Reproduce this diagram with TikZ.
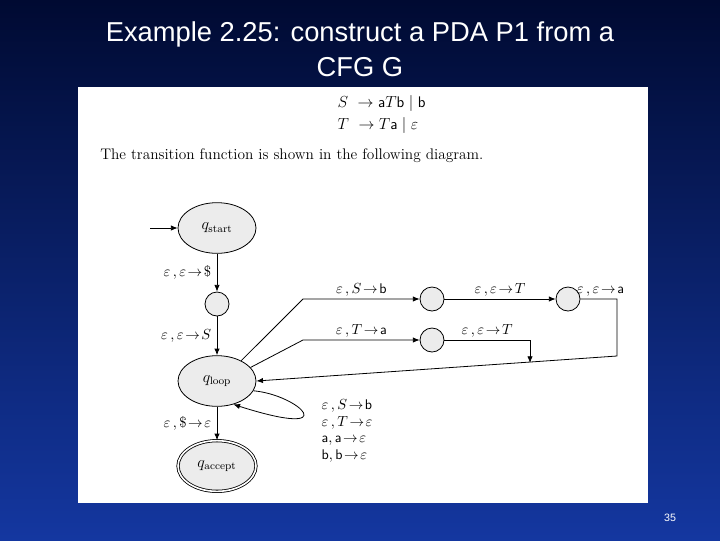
\documentclass[tikz,border=0pt]{standalone}
\usepackage{fontspec}
\newfontfamily\arial{Liberation Sans}
\usetikzlibrary{arrows.meta,shapes.geometric}
\begin{document}
\begin{tikzpicture}[x=0.75pt,y=-0.75pt,
  st/.style={draw,fill=gray!15,ellipse,minimum width=58.5pt,minimum height=38pt,inner sep=0pt,line width=0.6pt,font=\fontsize{12}{14}\selectfont},
  sm/.style={draw,fill=gray!15,circle,minimum size=18pt,inner sep=0pt,line width=0.6pt},
  ed/.style={-{Latex[length=5pt,width=4pt]},line width=0.6pt},
  lb/.style={font=\fontsize{10.5}{12.5}\selectfont,inner sep=1pt}]
\useasboundingbox (0,0) rectangle (720,540);
\shade[top color={rgb,255:red,0;green,10;blue,50},bottom color={rgb,255:red,20;green,55;blue,160}] (0,0) rectangle (720,540);
\fill[white] (78,87) rectangle (648,503);
\node[text=white,font=\arial\fontsize{20.5}{26}\selectfont,align=center] (title) at (360,49) {Example 2.25: construct a PDA P1 from a\\CFG G};
\node[text=white,font=\arial\fontsize{8}{10}\selectfont] (pg) at (670,518) {35};
\node[font=\fontsize{11.5}{13}\selectfont,anchor=west] (g1) at (333,103) {$S\ \rightarrow \textsf{a}T\textsf{b}\mid\textsf{b}$};
\node[font=\fontsize{11.5}{13}\selectfont,anchor=west] (g2) at (333,125) {$T\ \rightarrow T\textsf{a}\mid\varepsilon$};
\node[font=\fontsize{11.5}{13}\selectfont,anchor=west,inner sep=0pt] (tf) at (100,156) {The transition function is shown in the following diagram.};
\node[st] (qs) at (217,228) {$q_{\mathrm{start}}$};
\node[sm] (c1) at (217,304) {};
\node[st] (ql) at (217,381) {$q_{\mathrm{loop}}$};
\node[st,double,double distance=1.2pt] (qa) at (217,466) {$q_{\mathrm{accept}}$};
\node[sm] (c2) at (432,299) {};
\node[sm] (c3) at (568,299) {};
\node[sm] (c4) at (432,340) {};
\coordinate (in) at (150,228);
\coordinate (b1) at (303,299);
\coordinate (b2) at (303,340);
\coordinate (r1) at (617,299);
\coordinate (r2) at (617,356);
\coordinate (d1) at (530,340);
\coordinate (d2) at (530,363);
\draw[ed] (in) -- (qs);
\draw[ed] (qs) -- node[lb,left=3pt]{$\varepsilon\,,\varepsilon\!\rightarrow\!\$$} (c1);
\draw[ed] (c1) -- node[lb,left=3pt]{$\varepsilon\,,\varepsilon\!\rightarrow\!S$} (ql);
\draw[ed] (ql) -- node[lb,left=3pt]{$\varepsilon\,,\$\!\rightarrow\!\varepsilon$} (qa);
\draw[ed] (ql.40) -- (b1) -- node[lb,above=1pt]{$\varepsilon\,,S\!\rightarrow\!\textsf{b}$} (c2);
\draw[ed] (ql.22) -- (b2) -- node[lb,above=1pt]{$\varepsilon\,,T\!\rightarrow\!\textsf{a}$} (c4);
\draw[ed] (c2) -- node[lb,above=1pt]{$\varepsilon\,,\varepsilon\!\rightarrow\!T$} (c3);
\draw[ed] (c3) -- node[lb,above=1pt,pos=0.55]{$\varepsilon\,,\varepsilon\!\rightarrow\!\textsf{a}$} (r1) -- (r2) -- (ql.east);
\draw[ed] (c4) -- node[lb,above=1pt]{$\varepsilon\,,\varepsilon\!\rightarrow\!T$} (d1) -- (d2);
\draw[ed] (ql.-15) .. controls (300,395) and (345,440) .. (ql.-55);
\node[lb,align=left,anchor=west] (ll) at (320,431) {$\varepsilon\,,S\!\rightarrow\!\textsf{b}$\\$\varepsilon\,,T\!\rightarrow\!\varepsilon$\\$\textsf{a},\textsf{a}\!\rightarrow\!\varepsilon$\\$\textsf{b},\textsf{b}\!\rightarrow\!\varepsilon$};
\end{tikzpicture}
\end{document}
